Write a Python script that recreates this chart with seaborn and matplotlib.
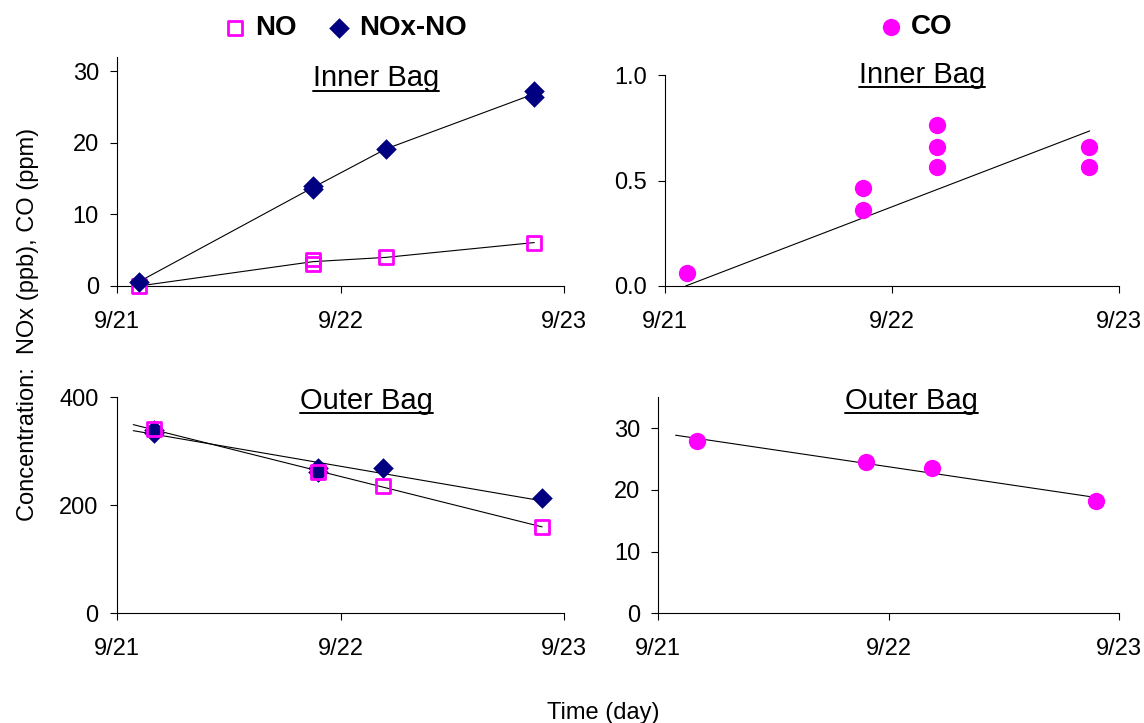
import numpy as np
import pandas as pd
import matplotlib
matplotlib.use("Agg")
import matplotlib.pyplot as plt
from matplotlib.lines import Line2D
import seaborn as sns

# ---- data: time in days after 9/21 00:00 ----
day_ticks = [0, 1, 2]
day_labels = ["9/21", "9/22", "9/23"]

# Inner bag, NOx species (ppb)
inner_no_day = [0.098, 0.876, 0.876, 1.203, 1.867]
inner_no = [0.0, 3.1, 3.7, 4.0, 6.07]
inner_noxno_day = [0.098, 0.876, 0.876, 1.203, 1.867, 1.867]
inner_noxno = [0.6, 13.5, 14.0, 19.15, 26.4, 27.3]

# Inner bag, CO (ppm)
inner_co_day = [0.095, 0.873, 0.873, 1.199, 1.199, 1.199, 1.867, 1.867]
inner_co = [0.063, 0.463, 0.362, 0.763, 0.661, 0.563, 0.661, 0.563]
inner_co_trend_day = [0.091, 1.871]
inner_co_trend = [0.0, 0.736]

# Outer bag, NOx species (ppb)
outer_no_day = [0.167, 0.900, 1.191, 1.899]
outer_no = [340.7, 261.0, 235.2, 160.4]
outer_noxno_day = [0.167, 0.167, 0.900, 0.900, 1.191, 1.899]
outer_noxno = [340.0, 334.0, 270.0, 262.0, 270.0, 213.0]
outer_nox_span = [0.074, 1.901]

# Outer bag, CO (ppm)
outer_co_day = [0.167, 0.900, 1.190, 1.900]
outer_co = [27.9, 24.5, 23.5, 18.2]
outer_co_span = [0.075, 1.874]

MAGENTA = "#FF00FF"
NAVY = "#000080"

sns.set_theme(style="ticks")
plt.rcParams["font.family"] = ["Liberation Sans", "DejaVu Sans"]
plt.rcParams["text.color"] = "black"

W, H = 1144, 723
fig = plt.figure(figsize=(W / 100, H / 100), dpi=100)


def rect(x0, x1, ytop, ybot):
    return [x0 / W, 1 - ybot / H, (x1 - x0) / W, (ybot - ytop) / H]


ax_tl = fig.add_axes(rect(117, 564, 57, 286))
ax_tr = fig.add_axes(rect(665, 1119, 75.3, 286))
ax_bl = fig.add_axes(rect(116.7, 564.3, 397.3, 613.3))
ax_br = fig.add_axes(rect(658.3, 1119, 397.3, 613.3))

sq_kw = dict(marker="s", s=100, facecolors="none", edgecolors=MAGENTA,
             linewidths=2.0, clip_on=False, zorder=3)
dm_kw = dict(marker="D", s=110, color=NAVY, edgecolor=NAVY, linewidth=0,
             clip_on=False, zorder=3)
ci_kw = dict(marker="o", s=155, color=MAGENTA, edgecolor=MAGENTA,
             linewidth=0, clip_on=False, zorder=3)
ln_kw = dict(color="black", linewidth=0.8, zorder=2)


def fit_line(ax, xs, ys, span):
    slope, icpt = np.polyfit(xs, ys, 1)
    fx = np.array(span)
    sns.lineplot(x=fx, y=icpt + slope * fx, ax=ax, **ln_kw)


# Inner bag NOx: lines through the mean at each sampling time
sns.lineplot(x=inner_no_day, y=inner_no, estimator="mean", errorbar=None,
             ax=ax_tl, **ln_kw)
sns.lineplot(x=inner_noxno_day, y=inner_noxno, estimator="mean",
             errorbar=None, ax=ax_tl, **ln_kw)
sns.scatterplot(x=inner_no_day, y=inner_no, ax=ax_tl, label="NO", **sq_kw)
sns.scatterplot(x=inner_noxno_day, y=inner_noxno, ax=ax_tl,
                label="NOx-NO", **dm_kw)

# Inner bag CO
sns.lineplot(x=inner_co_trend_day, y=inner_co_trend, ax=ax_tr, **ln_kw)
sns.scatterplot(x=inner_co_day, y=inner_co, ax=ax_tr, label="CO", **ci_kw)

# Outer bag NOx with linear trends
fit_line(ax_bl, outer_noxno_day, outer_noxno, outer_nox_span)
fit_line(ax_bl, outer_no_day, outer_no, outer_nox_span)
sns.scatterplot(x=outer_noxno_day, y=outer_noxno, ax=ax_bl, **dm_kw)
sns.scatterplot(x=outer_no_day, y=outer_no, ax=ax_bl, **sq_kw)

# Outer bag CO with linear trend
fit_line(ax_br, outer_co_day, outer_co, outer_co_span)
sns.scatterplot(x=outer_co_day, y=outer_co, ax=ax_br, **ci_kw)

y_setup = [
    (ax_tl, (0, 32), [0, 10, 20, 30], ["0", "10", "20", "30"]),
    (ax_tr, (0, 1), [0, 0.5, 1.0], ["0.0", "0.5", "1.0"]),
    (ax_bl, (0, 400), [0, 200, 400], ["0", "200", "400"]),
    (ax_br, (0, 35), [0, 10, 20, 30], ["0", "10", "20", "30"]),
]
for ax, ylim, yt, yl in y_setup:
    ax.set_xlim(0, 2)
    ax.set_ylim(*ylim)
    ax.set_xticks(day_ticks)
    ax.set_xticklabels(day_labels)
    ax.set_yticks(yt)
    ax.set_yticklabels(yl)
    ax.set_xlabel("")
    ax.set_ylabel("")
    for side in ("top", "right"):
        ax.spines[side].set_visible(False)
    for side in ("left", "bottom"):
        ax.spines[side].set_color("black")
        ax.spines[side].set_linewidth(0.8)
    ax.tick_params(axis="both", direction="out", length=5, width=0.8,
                   color="black", labelsize=17, labelcolor="black")
    ax.tick_params(axis="x", pad=13)
    ax.tick_params(axis="y", pad=8)
    leg = ax.get_legend()
    if leg is not None:
        leg.remove()

# Legends above the panels
h_tl, l_tl = ax_tl.get_legend_handles_labels()
fig.legend(h_tl, l_tl, loc="center", bbox_to_anchor=(346 / W, 1 - 28 / H),
           ncol=2, frameon=False, prop={"size": 20, "weight": "bold"},
           handlelength=0.7, handletextpad=0.35, columnspacing=1.2,
           borderpad=0, borderaxespad=0)
h_tr, l_tr = ax_tr.get_legend_handles_labels()
fig.legend(h_tr, l_tr, loc="center", bbox_to_anchor=(917 / W, 1 - 27 / H),
           frameon=False, prop={"size": 20, "weight": "bold"},
           handlelength=0.7, handletextpad=0.35, borderpad=0,
           borderaxespad=0)

# Underlined panel titles
titles = [
    ("Inner Bag", 376, 86, 90.5),
    ("Inner Bag", 921.7, 83, 87),
    ("Outer Bag", 366.7, 409, 413),
    ("Outer Bag", 911.7, 409, 413),
]
title_texts = []
for txt, cx, base, uline in titles:
    t = fig.text(cx / W, 1 - base / H, txt, ha="center", va="baseline",
                 fontsize=21, color="black")
    title_texts.append((t, uline))

fig.text(28 / W, 1 - 324.5 / H, "Concentration:  NOx (ppb), CO (ppm)",
         rotation=90, ha="center", va="center", fontsize=17, color="black")
fig.text(603 / W, 1 - 713 / H, "Time (day)", ha="center", va="center",
         fontsize=17, color="black")

fig.canvas.draw()
renderer = fig.canvas.get_renderer()
for t, uline in title_texts:
    bb = t.get_window_extent(renderer)
    yy = 1 - uline / H
    fig.add_artist(Line2D([bb.x0 / W, bb.x1 / W], [yy, yy],
                          transform=fig.transFigure, color="black",
                          linewidth=1.4))

fig.savefig("out.png", dpi=100)
